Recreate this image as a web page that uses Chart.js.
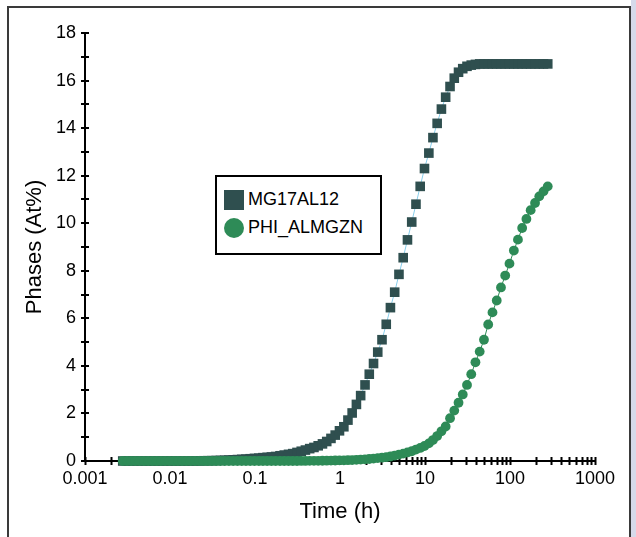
<!DOCTYPE html>
<html>
<head>
<meta charset="utf-8">
<script src="https://cdn.jsdelivr.net/npm/chart.js@4.4.1/dist/chart.umd.min.js"></script>
<style>
    html, body { margin: 0; padding: 0; background: #fff; }
    body { width: 636px; height: 537px; position: relative; overflow: hidden; font-family: "Liberation Sans", Arial, sans-serif; }
    .frame { position: absolute; left: 7px; top: 6px; width: 620px; height: 540px; border: 2px solid #3a3a3a; border-bottom: none; }
    .strip { position: absolute; left: 631px; top: 0; width: 5px; height: 537px; background: #d6daea; }
    #chartWrap { position: absolute; left: 0; top: 0; width: 636px; height: 537px; }
    .legend { position: absolute; left: 215px; top: 175px; width: 163px; height: 76px; border: 2px solid #000; background: #fff; }
    .legend-item { position: absolute; left: 7px; display: flex; align-items: center; font-size: 18px; color: #000; }
    .legend-item .sw { width: 20px; height: 20px; margin-right: 4px; }
</style>
</head>
<body>
<div class="frame"></div>
<div class="strip"></div>
<div id="chartWrap"><canvas id="phaseChart" width="636" height="537"></canvas></div>
<div class="legend">
    <div class="legend-item" style="top: 12px;"><div class="sw" style="background: #2f4f4f;"></div>MG17AL12</div>
    <div class="legend-item" style="top: 40px;"><div class="sw" style="background: #2e8b57; border-radius: 50%;"></div>PHI_ALMGZN</div>
</div>
<script>
// time in hours (10 s .. 1e6 s, 20 steps per decade)
const timeHours = [
    0.00278, 0.00312, 0.0035, 0.00392, 0.0044, 0.00494, 0.00554, 0.00622, 0.00698, 0.00783,
    0.00878, 0.00986, 0.0111, 0.0124, 0.0139, 0.0156, 0.0175, 0.0197, 0.0221, 0.0248,
    0.0278, 0.0312, 0.035, 0.0392, 0.044, 0.0494, 0.0554, 0.0622, 0.0698, 0.0783,
    0.0878, 0.0986, 0.111, 0.124, 0.139, 0.156, 0.175, 0.197, 0.221, 0.248,
    0.278, 0.312, 0.35, 0.392, 0.44, 0.494, 0.554, 0.622, 0.698, 0.783,
    0.878, 0.986, 1.11, 1.24, 1.39, 1.56, 1.75, 1.97, 2.21, 2.48,
    2.78, 3.12, 3.5, 3.92, 4.4, 4.94, 5.54, 6.22, 6.98, 7.83,
    8.78, 9.86, 11.1, 12.4, 13.9, 15.6, 17.5, 19.7, 22.1, 24.8,
    27.8, 31.2, 35, 39.2, 44, 49.4, 55.4, 62.2, 69.8, 78.3,
    87.8, 98.6, 111, 124, 139, 156, 175, 197, 221, 248,
    278
];

const mg17al12 = [
    0, 0, 0, 0, 0, 0, 0, 0, 0, 0,
    0, 0, 0, 0, 0, 0, 0, 0, 0.005, 0.01,
    0.012, 0.015, 0.02, 0.025, 0.03, 0.04, 0.05, 0.06, 0.07, 0.08,
    0.095, 0.11, 0.12, 0.14, 0.155, 0.17, 0.19, 0.22, 0.25, 0.28,
    0.31, 0.36, 0.41, 0.46, 0.52, 0.57, 0.64, 0.72, 0.82, 0.95,
    1.09, 1.27, 1.44, 1.72, 2.02, 2.38, 2.75, 3.2, 3.65, 4.1,
    4.58, 5.1, 5.75, 6.45, 7.1, 7.85, 8.55, 9.3, 10.05, 10.8,
    11.55, 12.3, 12.95, 13.6, 14.2, 14.8, 15.3, 15.75, 16.1, 16.35,
    16.5, 16.6, 16.65, 16.68, 16.7, 16.7, 16.7, 16.7, 16.7, 16.7,
    16.7, 16.7, 16.7, 16.7, 16.7, 16.7, 16.7, 16.7, 16.7, 16.7,
    16.7
];

const phiAlmgzn = [
    0, 0, 0, 0, 0, 0, 0, 0, 0, 0,
    0, 0, 0, 0, 0, 0, 0, 0, 0, 0,
    0, 0, 0, 0, 0, 0, 0, 0, 0, 0,
    0, 0, 0, 0, 0, 0, 0, 0, 0, 0,
    0, 0.001, 0.002, 0.003, 0.004, 0.006, 0.008, 0.01, 0.012, 0.015,
    0.02, 0.025, 0.03, 0.035, 0.04, 0.05, 0.06, 0.07, 0.085, 0.1,
    0.12, 0.14, 0.16, 0.19, 0.23, 0.27, 0.31, 0.36, 0.41, 0.48,
    0.55, 0.63, 0.74, 0.88, 1.05, 1.25, 1.45, 1.8, 2.12, 2.45,
    2.8, 3.2, 3.65, 4.15, 4.6, 5.1, 5.74, 6.25, 6.75, 7.3,
    7.8, 8.3, 8.85, 9.31, 9.8, 10.18, 10.55, 10.85, 11.13, 11.34,
    11.55
];

const xDecades = [0.001, 0.01, 0.1, 1, 10, 100, 1000];
const xLabels = ['0.001', '0.01', '0.1', '1', '10', '100', '1000'];
const yLabels = ['0', '2', '4', '6', '8', '10', '12', '14', '16', '18'];

const FONT = '"Liberation Sans", Arial, sans-serif';

// minor + major tick positions on the log axis
const xTickValues = [];
xDecades.forEach((d, i) => {
    if (i === xDecades.length - 1) { xTickValues.push(d); return; }
    for (let m = 1; m <= 9; m++) xTickValues.push(d * m);
});

const crossTicks = {
    id: 'crossTicks',
    beforeDatasetsDraw(chart) {
        const { ctx, chartArea, scales } = chart;
        ctx.save();
        ctx.strokeStyle = '#000';
        ctx.lineWidth = 2;
        ctx.beginPath();
        scales.x.ticks.forEach(t => {
            const px = Math.round(scales.x.getPixelForValue(t.value)) + 0.5;
            ctx.moveTo(px, chartArea.bottom - 4);
            ctx.lineTo(px, chartArea.bottom + 4);
        });
        scales.y.ticks.forEach(t => {
            const py = Math.round(scales.y.getPixelForValue(t.value));
            ctx.moveTo(chartArea.left - 4, py);
            ctx.lineTo(chartArea.left + 4, py);
        });
        ctx.stroke();
        ctx.restore();
    }
};

const toPoints = arr => arr.map((v, i) => ({ x: timeHours[i], y: v }));

new Chart(document.getElementById('phaseChart'), {
    type: 'scatter',
    data: {
        datasets: [
            {
                label: 'MG17AL12',
                data: toPoints(mg17al12),
                showLine: true,
                borderColor: '#87ceeb',
                borderWidth: 1,
                pointStyle: 'rect',
                pointRadius: 6.8,
                pointBackgroundColor: '#2f4f4f',
                pointBorderColor: '#2f4f4f',
                pointBorderWidth: 0,
                order: 2,
                clip: false
            },
            {
                label: 'PHI_ALMGZN',
                data: toPoints(phiAlmgzn),
                showLine: true,
                borderColor: '#2e8b57',
                borderWidth: 1,
                pointStyle: 'circle',
                pointRadius: 4.9,
                pointBackgroundColor: '#2e8b57',
                pointBorderColor: '#2e8b57',
                pointBorderWidth: 0,
                order: 1,
                clip: false
            }
        ]
    },
    options: {
        responsive: false,
        animation: false,
        devicePixelRatio: 1,
        layout: { padding: { top: 33, right: 41, left: 0, bottom: 0 } },
        plugins: {
            legend: { display: false },
            tooltip: { enabled: false }
        },
        scales: {
            x: {
                type: 'logarithmic',
                min: 0.001,
                max: 1000,
                afterBuildTicks: (scale) => {
                    scale.ticks = xTickValues.map(v => ({ value: v }));
                },
                afterFit: (scale) => { scale.height = 76; },
                grid: { display: false, drawTicks: false },
                border: { display: true, color: '#000', width: 2 },
                ticks: {
                    autoSkip: false,
                    maxRotation: 0,
                    padding: 7,
                    color: '#000',
                    font: { family: FONT, size: 18 },
                    callback: (v) => {
                        const i = xDecades.indexOf(v);
                        return i >= 0 ? xLabels[i] : '';
                    }
                },
                title: {
                    display: true,
                    text: 'Time (h)',
                    color: '#000',
                    font: { family: FONT, size: 22 },
                    padding: { top: 0, bottom: 12 }
                }
            },
            y: {
                min: 0,
                max: 18,
                afterFit: (scale) => { scale.width = 85; },
                grid: { display: false, drawTicks: false },
                border: { display: true, color: '#000', width: 2 },
                ticks: {
                    stepSize: 1,
                    autoSkip: false,
                    padding: 9,
                    color: '#000',
                    font: { family: FONT, size: 18 },
                    callback: (v) => (v % 2 === 0 ? yLabels[v / 2] : '')
                },
                title: {
                    display: true,
                    text: 'Phases (At%)',
                    color: '#000',
                    font: { family: FONT, size: 22 },
                    padding: { top: 22, bottom: 0 }
                }
            }
        }
    },
    plugins: [crossTicks]
});
</script>
</body>
</html>
